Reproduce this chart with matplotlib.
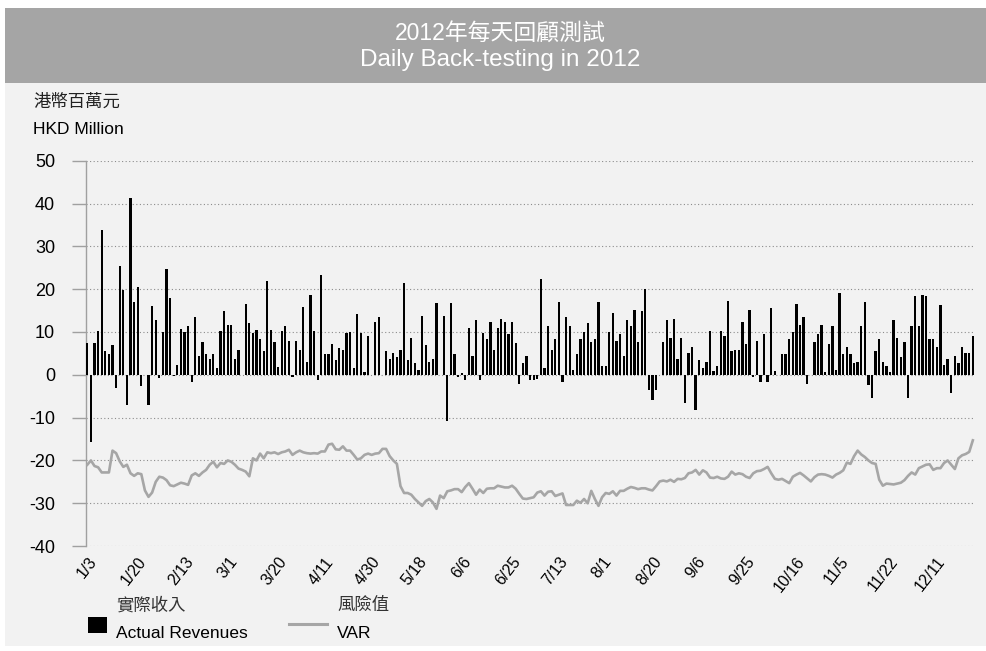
import matplotlib
matplotlib.use("Agg")
import matplotlib.pyplot as plt
from matplotlib.patches import Rectangle
from matplotlib.lines import Line2D
import numpy as np

plt.rcParams['font.family'] = ['Liberation Sans', 'Noto Sans CJK TC', 'DejaVu Sans']

# ---------------- data ----------------
actual_revenues = [
    7.4, -15.8, 7.4, 10.3, 33.9, 5.6, 4.9, 7.0, -3.1, 25.4,
    19.8, -7.0, 41.2, 17.0, 20.5, -2.7, 0.0, -7.0, 16.0, 12.7,
    -0.8, 10.0, 24.7, 18.0, -0.3, 2.3, 10.7, 10.0, 11.3, -1.7,
    13.5, 4.5, 7.7, 4.9, 3.7, 4.9, 1.7, 10.3, 14.8, 11.7,
    11.7, 3.7, 5.8, 0.0, 16.6, 12.1, 9.7, 10.5, 8.3, 5.5,
    21.9, 10.5, 7.6, 1.9, 10.2, 11.5, 8.0, -0.6, 7.9, 5.8,
    15.8, 3.0, 18.6, 10.2, -1.3, 23.3, 4.9, 4.9, 7.3, 3.4,
    6.2, 5.9, 9.8, 10.0, 1.6, 14.2, 9.8, 0.6, 9.0, 0.0,
    12.3, 13.4, 0.0, 5.5, 3.7, 5.2, 4.1, 5.8, 21.4, 3.4,
    8.7, 2.7, 1.2, 13.7, 6.9, 3.0, 3.7, 16.8, 0.0, 13.7,
    -10.9, 16.8, 4.8, -0.4, 0.5, -1.3, 11.0, 4.5, 12.7, -1.3,
    9.8, 8.3, 12.3, 5.9, 11.0, 13.0, 12.3, 9.5, 12.3, 7.4,
    -2.1, 2.7, 4.5, -1.3, -1.3, -1.0, 22.3, 1.6, 11.3, 5.9,
    8.3, 17.0, -1.7, 13.4, 11.3, 1.2, 4.8, 8.3, 10.0, 12.0,
    7.6, 8.3, 17.0, 2.0, 2.0, 10.0, 14.5, 8.0, 9.5, 4.5,
    12.7, 11.3, 15.2, 7.6, 14.8, 20.1, -3.5, -5.8, -3.5, 0.0,
    7.6, 12.7, 8.7, 13.0, 3.7, 8.7, -6.6, 5.2, 6.6, -8.3,
    3.4, 1.6, 3.0, 10.2, 0.9, 2.0, 10.2, 9.0, 17.3, 5.5,
    5.9, 5.9, 12.3, 7.3, 15.2, -0.4, 8.0, -1.7, 9.5, -1.7,
    15.6, 0.9, 0.0, 4.8, 4.8, 8.3, 10.0, 16.6, 11.7, 13.4,
    -2.1, 0.0, 7.6, 9.5, 11.7, 0.6, 7.3, 11.3, 1.2, 19.0,
    4.8, 6.6, 4.8, 2.7, 3.0, 11.3, 17.0, -2.4, -5.5, 5.5,
    8.3, 3.0, 2.0, 0.6, 12.7, 8.7, 4.1, 7.6, -5.5, 11.3,
    18.3, 11.3, 18.6, 18.3, 8.3, 8.3, 6.6, 16.3, 2.3, 3.7,
    -4.2, 4.5, 2.7, 6.6, 5.2, 5.2, 9.0,
]

var_values = [
    -21.0, -20.0, -21.3, -21.6, -22.8, -22.8, -22.8, -17.7, -18.3, -20.2,
    -21.5, -21.0, -23.0, -23.6, -23.0, -23.2, -27.0, -28.5, -27.5, -25.0,
    -23.8, -24.0, -24.6, -25.8, -26.0, -25.6, -25.2, -25.4, -25.7, -23.5,
    -23.0, -23.6, -22.8, -22.2, -21.0, -20.3, -21.6, -20.6, -20.8, -20.0,
    -20.3, -21.0, -21.9, -22.2, -22.6, -23.7, -19.5, -20.0, -18.4, -19.5,
    -18.1, -18.3, -18.1, -18.5, -18.1, -17.9, -17.5, -18.7, -18.1, -17.7,
    -18.1, -18.3, -18.4, -18.3, -18.4, -17.9, -17.9, -16.3, -16.1, -17.4,
    -17.5, -16.7, -17.7, -17.7, -18.7, -19.8, -19.5, -18.7, -18.4, -18.7,
    -18.4, -18.3, -17.3, -17.3, -19.0, -20.0, -20.8, -26.0, -27.6, -27.6,
    -28.0, -29.0, -29.8, -30.6, -29.5, -29.0, -29.8, -31.3, -28.2, -28.8,
    -27.2, -27.0, -26.7, -26.7, -27.4, -26.2, -25.3, -26.6, -28.0, -26.8,
    -27.6, -26.6, -26.5, -26.5, -25.9, -26.1, -26.3, -26.3, -25.9, -26.6,
    -27.8, -28.9, -29.0, -28.8, -28.6, -27.5, -27.2, -28.2, -27.3, -27.2,
    -28.3, -28.0, -27.7, -30.4, -30.4, -30.4, -29.4, -29.9, -29.0, -30.0,
    -27.1, -29.0, -30.6, -28.6, -27.6, -27.8, -27.2, -28.2, -27.1, -27.1,
    -26.6, -26.2, -26.4, -26.7, -26.5, -26.5, -26.8, -27.0, -26.0, -24.9,
    -24.7, -24.9, -24.5, -25.0, -24.3, -24.4, -24.1, -23.0, -22.8, -22.2,
    -23.3, -22.3, -22.8, -24.0, -24.1, -23.8, -24.2, -24.3, -23.8, -22.6,
    -23.3, -23.0, -23.2, -23.8, -24.1, -23.0, -22.5, -22.4, -22.0, -21.5,
    -23.0, -24.3, -24.5, -24.3, -24.8, -25.3, -23.8, -23.3, -22.9, -23.5,
    -24.2, -24.9, -23.9, -23.3, -23.2, -23.3, -23.6, -24.0, -23.3, -22.9,
    -22.3, -20.5, -20.8, -19.0, -17.7, -18.6, -19.2, -20.0, -20.6, -20.8,
    -24.5, -25.9, -25.4, -25.5, -25.6, -25.4, -25.2, -24.6, -23.6, -22.8,
    -23.3, -21.8, -21.4, -21.0, -20.9, -22.2, -21.8, -21.8, -20.6, -20.0,
    -21.0, -22.0, -19.5, -18.8, -18.5, -18.0, -15.3,
]

tick_labels = ['1/3', '1/20', '2/13', '3/1', '3/20', '4/11', '4/30', '5/18', '6/6',
               '6/25', '7/13', '8/1', '8/20', '9/6', '9/25', '10/16', '11/5',
               '11/22', '12/11']
tick_step = 13

y_ticks = [50, 40, 30, 20, 10, 0, -10, -20, -30, -40]

title_zh = '2012年每天回顧測試'
title_en = 'Daily Back-testing in 2012'
unit_zh = '港幣百萬元'
unit_en = 'HKD Million'
legend_bar_zh, legend_bar_en = '實際收入', 'Actual Revenues'
legend_var_zh, legend_var_en = '風險值', 'VAR'

# ---------------- figure ----------------
W, H = 987, 651
fig = plt.figure(figsize=(W / 100, H / 100), dpi=100, facecolor='white')

def fx(px):
    return px / W

def fy(py):
    return 1 - py / H

panel_col = '#f2f2f2'
banner_col = '#a5a5a5'
fig.patches.append(Rectangle((fx(5), fy(646)), fx(982), (646 - 83) / H,
                             transform=fig.transFigure, facecolor=panel_col,
                             edgecolor='none', zorder=-2))
fig.patches.append(Rectangle((fx(5), fy(83)), fx(982), (83 - 8) / H,
                             transform=fig.transFigure, facecolor=banner_col,
                             edgecolor='none', zorder=-2))

fig.text(fx(500), fy(34), title_zh, color='white', fontsize=16.5, ha='center', va='center')
fig.text(fx(500), fy(60), title_en, color='white', fontsize=17.5, ha='center', va='center')

fig.text(fx(33), fy(102), unit_zh, color='#222222', fontsize=12.5, ha='left', va='center')
fig.text(fx(33), fy(129), unit_en, color='black', fontsize=12.5, ha='left', va='center')

ax_left, ax_right, ax_top, ax_bot = 85.7, 975, 160.7, 546.1
ax = fig.add_axes([fx(ax_left), fy(ax_bot), (ax_right - ax_left) / W, (ax_bot - ax_top) / H])
ax.set_facecolor('none')

x = np.arange(len(actual_revenues))
ax.bar(x, actual_revenues, width=0.65, color='black', zorder=3)
ax.plot(np.arange(len(var_values)), var_values, color='#a6a6a6', lw=1.9, zorder=4,
        solid_joinstyle='round')

ax.set_xlim(-0.45, 246.6)
ax.set_ylim(-40, 50)
ax.set_yticks(y_ticks)
ax.set_yticklabels([str(v) for v in y_ticks], fontsize=13)
for v in y_ticks:
    ax.axhline(v, color='#8c8c8c', lw=0.8, linestyle=(0, (1, 2.2)), zorder=1)

ax.set_xticks(np.arange(len(tick_labels)) * tick_step)
ax.set_xticklabels(tick_labels, rotation=52, ha='center', fontsize=11.5)
ax.tick_params(axis='x', length=0, pad=6)
ax.tick_params(axis='y', length=10, width=1, color='#a0a0a0', pad=12)

for s in ['top', 'right', 'bottom']:
    ax.spines[s].set_visible(False)
ax.spines['left'].set_color('#a0a0a0')
ax.spines['left'].set_linewidth(1)

# ---------------- legend ----------------
fig.patches.append(Rectangle((fx(88), fy(633)), fx(19), 16 / H, transform=fig.transFigure,
                             facecolor='black', edgecolor='none', zorder=5))
fig.text(fx(116), fy(605), legend_bar_zh, fontsize=12.5, color='#333333', ha='left', va='center')
fig.text(fx(116), fy(634), legend_bar_en, fontsize=12.5, color='black', ha='left', va='center')
fig.lines.append(Line2D([fx(289), fx(327)], [fy(624), fy(624)], transform=fig.transFigure,
                        color='#a6a6a6', lw=2.2))
fig.text(fx(337), fy(605), legend_var_zh, fontsize=12.5, color='#333333', ha='left', va='center')
fig.text(fx(337), fy(634), legend_var_en, fontsize=12.5, color='black', ha='left', va='center')

fig.savefig('out.png', dpi=100, facecolor='white')
